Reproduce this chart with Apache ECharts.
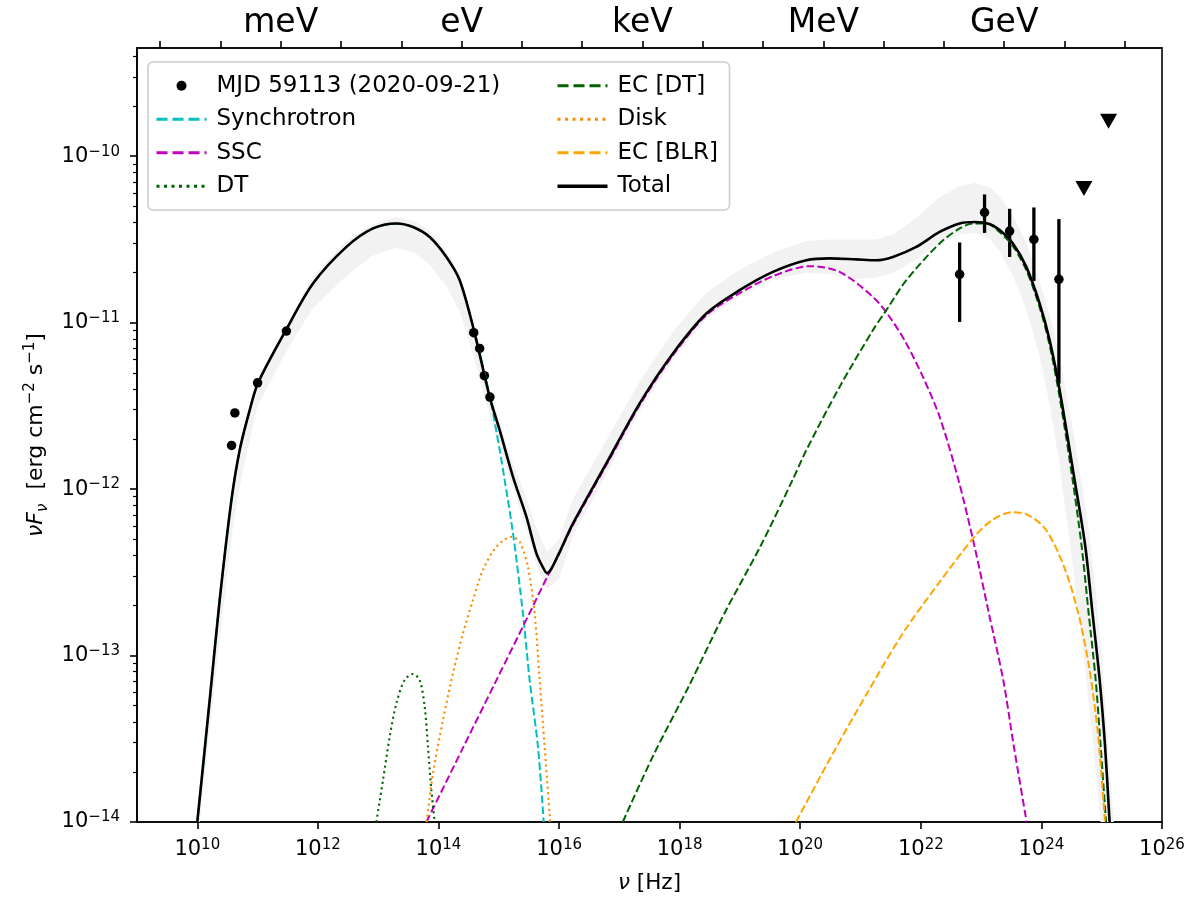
<!DOCTYPE html>
<html>
<head>
<meta charset="utf-8">
<title>SED MJD 59113</title>
<script src="https://cdn.jsdelivr.net/npm/echarts@6/dist/echarts.min.js"></script>
<style>
    html, body { margin: 0; padding: 0; background: #fff; }
    #sed { width: 1200px; height: 901px; }
</style>
</head>
<body>
<div id="sed"></div>
<script>
// model curves, pairs of [log10 nu (Hz), log10 nuFnu (erg cm^-2 s^-1)]
var synchrotron = [
    [10.0, -14.0], [10.206, -13.267], [10.371, -12.667], [10.566, -12.066], [10.703, -11.766],
    [10.869, -11.526], [11.007, -11.363], [11.478, -11.040], [11.919, -10.765], [12.473, -10.545],
    [12.914, -10.434], [13.302, -10.404], [13.577, -10.425], [13.854, -10.485], [14.131, -10.605],
    [14.352, -10.745], [14.584, -11.040], [14.854, -11.447], [15.015, -11.766], [15.098, -11.946],
    [15.236, -12.266], [15.401, -12.747], [15.512, -13.147], [15.650, -13.548], [15.745, -14.0]
];
var ssc = [
    [13.799, -14.0], [14.406, -13.555], [14.960, -13.149], [15.512, -12.744], [15.800, -12.530],
    [16.000, -12.390], [16.231, -12.215], [16.784, -11.856], [17.337, -11.495], [17.889, -11.195],
    [18.443, -10.955], [18.995, -10.823], [19.547, -10.721], [20.155, -10.661], [20.653, -10.695],
    [21.205, -10.845], [21.482, -10.965], [21.759, -11.125], [22.035, -11.326], [22.312, -11.566],
    [22.625, -11.946], [22.892, -12.347], [23.129, -12.747], [23.367, -13.147], [23.544, -13.548],
    [23.755, -14.0]
];
var dustTorus = [
    [12.970, -14.0], [13.080, -13.748], [13.191, -13.488], [13.302, -13.287], [13.439, -13.147],
    [13.577, -13.111], [13.688, -13.147], [13.771, -13.307], [13.826, -13.548], [13.882, -13.808],
    [13.937, -14.0]
];
var ecDT = [
    [17.057, -14.0], [17.562, -13.601], [18.154, -13.183], [18.746, -12.744], [19.338, -12.345],
    [19.872, -11.946], [20.101, -11.766], [20.653, -11.386], [21.206, -11.045], [21.428, -10.925],
    [21.760, -10.745], [22.312, -10.524], [22.644, -10.434], [22.864, -10.404], [23.086, -10.404],
    [23.307, -10.456], [23.527, -10.540], [23.750, -10.685], [23.970, -10.907], [24.136, -11.135],
    [24.302, -11.447], [24.518, -11.946], [24.667, -12.342], [24.783, -12.745], [24.899, -13.141],
    [24.982, -13.544], [25.072, -14.0]
];
var disk = [
    [13.804, -14.0], [13.909, -13.708], [14.075, -13.387], [14.241, -13.107], [14.406, -12.867],
    [14.572, -12.667], [14.738, -12.486], [14.960, -12.347], [15.209, -12.287], [15.347, -12.317],
    [15.484, -12.467], [15.595, -12.747], [15.678, -13.147], [15.761, -13.548], [15.852, -14.0]
];
var ecBLR = [
    [19.930, -14.0], [20.522, -13.601], [21.116, -13.222], [21.708, -12.863], [22.300, -12.564],
    [22.892, -12.285], [23.189, -12.185], [23.514, -12.139], [23.781, -12.156], [24.076, -12.245],
    [24.373, -12.464], [24.610, -12.744], [24.788, -13.063], [24.935, -13.461], [25.054, -14.0]
];
var total = [
    [10.0, -14.0], [10.206, -13.267], [10.371, -12.667], [10.566, -12.066], [10.703, -11.766],
    [10.869, -11.526], [11.007, -11.363], [11.478, -11.040], [11.919, -10.765], [12.473, -10.545],
    [12.914, -10.434], [13.302, -10.404], [13.577, -10.425], [13.854, -10.485], [14.131, -10.605],
    [14.352, -10.745], [14.584, -11.040], [14.849, -11.446], [15.015, -11.646], [15.236, -11.926],
    [15.458, -12.166], [15.624, -12.386], [15.733, -12.470], [15.800, -12.505], [15.870, -12.480],
    [16.000, -12.385], [16.231, -12.206], [16.784, -11.846], [17.337, -11.485], [17.889, -11.185],
    [18.443, -10.945], [18.995, -10.805], [19.547, -10.695], [20.101, -10.625], [20.488, -10.614],
    [20.930, -10.620], [21.262, -10.625], [21.537, -10.605], [21.925, -10.545], [22.312, -10.455],
    [22.644, -10.404], [22.892, -10.395], [23.141, -10.408], [23.307, -10.444], [23.527, -10.524],
    [23.750, -10.665], [23.970, -10.885], [24.136, -11.105], [24.302, -11.405], [24.551, -11.946],
    [24.728, -12.345], [24.847, -12.744], [24.965, -13.141], [25.055, -13.541], [25.131, -14.0]
];
// uncertainty band of the total model
var bandUpper = [
    [9.98, -14.0], [10.2, -13.2], [10.37, -12.62], [10.56, -12.03], [10.7, -11.74], [11.0, -11.34],
    [11.5, -11.0], [11.9, -10.73], [12.47, -10.51], [12.9, -10.41], [13.3, -10.365], [13.6, -10.39],
    [13.85, -10.45], [14.13, -10.57], [14.35, -10.71], [14.58, -11.0], [14.85, -11.41], [15.24, -11.85],
    [15.46, -12.05], [15.63, -12.24], [15.8, -12.38], [16.0, -12.3], [16.23, -12.06], [16.7, -11.76],
    [17.34, -11.35], [17.9, -11.05], [18.44, -10.82], [19.0, -10.68], [19.55, -10.58], [20.1, -10.51],
    [20.5, -10.5], [20.93, -10.5], [21.26, -10.5], [21.54, -10.47], [21.93, -10.37], [22.3, -10.25],
    [22.64, -10.18], [22.9, -10.16], [23.15, -10.19], [23.3, -10.24], [23.53, -10.36], [23.75, -10.52],
    [23.97, -10.75], [24.14, -10.96], [24.3, -11.2], [24.55, -11.7], [24.75, -12.15], [24.9, -12.6],
    [25.02, -13.1], [25.12, -13.6], [25.2, -14.0]
];
var bandLower = [
    [10.04, -14.0], [10.25, -13.3], [10.42, -12.75], [10.6, -12.2], [10.75, -11.9], [11.0, -11.5],
    [11.5, -11.16], [11.9, -10.92], [12.47, -10.72], [12.9, -10.6], [13.3, -10.55], [13.6, -10.58],
    [13.85, -10.65], [14.13, -10.78], [14.35, -10.93], [14.58, -11.2], [14.85, -11.56], [15.24, -12.0],
    [15.46, -12.24], [15.63, -12.46], [15.8, -12.6], [16.0, -12.54], [16.23, -12.28], [16.7, -11.97],
    [17.34, -11.53], [17.9, -11.22], [18.44, -10.98], [19.0, -10.84], [19.55, -10.74], [20.1, -10.7],
    [20.5, -10.71], [20.93, -10.74], [21.26, -10.73], [21.54, -10.7], [21.93, -10.62], [22.3, -10.52],
    [22.64, -10.47], [22.9, -10.46], [23.15, -10.5], [23.3, -10.57], [23.53, -10.72], [23.75, -10.92],
    [23.97, -11.2], [24.14, -11.5], [24.3, -11.85], [24.5, -12.4], [24.7, -13.0], [24.85, -13.5],
    [24.98, -14.0]
];

// observations, nu in Hz and nuFnu in erg cm^-2 s^-1
var obsNu = [3.7e10, 4.2e10, 1.0e11, 3.0e11, 3.84e14, 4.82e14, 5.77e14, 7.14e14,
    4.4e22, 1.14e23, 2.97e23, 7.5e23, 1.95e24];
var obsFlux = [1.83e-12, 2.87e-12, 4.35e-12, 8.9e-12, 8.7e-12, 7.0e-12, 4.8e-12, 3.57e-12,
    1.95e-11, 4.59e-11, 3.55e-11, 3.16e-11, 1.82e-11];
var gammaNu = [4.4e22, 1.14e23, 2.97e23, 7.5e23, 1.95e24];
var gammaLow = [1.01e-11, 3.46e-11, 2.48e-11, 1.78e-11, 4.3e-12];
var gammaHigh = [3.03e-11, 5.89e-11, 4.83e-11, 4.92e-11, 4.19e-11];
var ulNu = [5.07e24, 1.3e25, 3.3e25];
var ulFlux = [6.4e-11, 1.62e-10, 5.0e-10];

// axis ticks (log10 nu, log10 nuFnu) and energy axis
var xTicks = [10, 12, 14, 16, 18, 20, 22, 24, 26];
var yTicks = [-14, -13, -12, -11, -10];
var energyExp = [-5, -4, -3, -2, -1, 0, 1, 2, 3, 4, 5, 6, 7, 8, 9, 10, 11];
var energyNames = {'-3': 'meV', '0': 'eV', '3': 'keV', '6': 'MeV', '9': 'GeV'};
var LOG_HZ_PER_EV = Math.log10(2.417989e14);

var FONT = 'DejaVu Sans';
var yMin = -14, yMax = -9.35;

var yMinor = [];
for (var n = -14; n <= -10; n++) {
    for (var k = 2; k <= 9; k++) {
        var v = n + Math.log10(k);
        if (v < yMax) yMinor.push(v);
    }
}
var energyTicks = energyExp.map(function(e) { return LOG_HZ_PER_EV + e; });
var energyLabelTicks = energyExp.filter(function(e) { return energyNames[e] !== undefined; })
    .map(function(e) { return LOG_HZ_PER_EV + e; });

function logPairs(xs, ys) {
    return xs.map(function(x, i) { return [Math.log10(x), Math.log10(ys[i])]; });
}

function powLabel(v) {
    var e = Math.round(v);
    return '{b|10}{s|' + (e < 0 ? '\u2212' + (-e) : e) + '}';
}

var powRich = {
    b: {fontFamily: FONT, fontSize: 21, lineHeight: 24, color: '#000'},
    s: {fontFamily: FONT, fontSize: 15, lineHeight: 15, verticalAlign: 'top', color: '#000'}
};

function modelLine(name, data, color, dash, width) {
    return {
        name: name,
        type: 'line',
        data: data,
        showSymbol: false,
        symbol: 'none',
        smooth: 0.3,
        lineStyle: {color: color, width: width, type: dash},
        itemStyle: {color: color},
        emphasis: {disabled: true},
        silent: true
    };
}

var DASH = [7.7, 3.3];
var DOT = [2.1, 3.4];
var LEG_DASH = [11, 5];
var LEG_DOT = [3, 4.5];

function legendLine(name, width, dash, textWidth) {
    return {
        name: name,
        itemStyle: {opacity: 0},
        lineStyle: {width: width, type: dash},
        textStyle: {width: textWidth, padding: [0, 0, 0, 5]}
    };
}

var chart = echarts.init(document.getElementById('sed'));

var option = {
    animation: false,
    backgroundColor: '#fff',
    grid: {
        left: 137, right: 38, top: 48, bottom: 79,
        show: true, borderColor: '#000', borderWidth: 1.6, backgroundColor: 'transparent'
    },
    legend: {
        orient: 'vertical',
        left: 148,
        top: 62,
        height: 150,
        padding: [11.75, 8, 11.75, 7],
        itemGap: 9.5,
        itemWidth: 50,
        itemHeight: 10,
        backgroundColor: 'rgba(255,255,255,0.8)',
        borderColor: '#cccccc',
        borderWidth: 1.5,
        borderRadius: 5,
        selectedMode: false,
        textStyle: {fontFamily: FONT, fontSize: 23, color: '#000', lineHeight: 24},
        data: [
            {name: 'MJD 59113 (2020-09-21)', itemStyle: {opacity: 1},
                textStyle: {width: 330, padding: [0, 0, 0, 5]}},
            legendLine('Synchrotron', 3, LEG_DASH, 330),
            legendLine('SSC', 3, LEG_DASH, 330),
            legendLine('DT', 3, LEG_DOT, 330),
            legendLine('EC [DT]', 3, LEG_DASH, 104),
            legendLine('Disk', 3, LEG_DOT, 104),
            legendLine('EC [BLR]', 3, LEG_DASH, 104),
            legendLine('Total', 3.5, 'solid', 104)
        ]
    },
    xAxis: [
        {
            type: 'value',
            position: 'bottom',
            min: 9,
            max: 26,
            name: '{i|\u03bd} [Hz]',
            nameLocation: 'middle',
            nameGap: 50,
            nameTextStyle: {
                fontFamily: FONT, fontSize: 21.5, color: '#000',
                rich: {i: {fontFamily: FONT, fontSize: 21.5, fontStyle: 'italic', color: '#000'}}
            },
            axisLine: {show: true, lineStyle: {color: '#000', width: 1.6}},
            axisTick: {show: true, customValues: xTicks, length: 7, lineStyle: {color: '#000', width: 1.6}},
            axisLabel: {customValues: xTicks, margin: 16, formatter: powLabel, rich: powRich},
            splitLine: {show: false}
        },
        {
            type: 'value',
            position: 'top',
            min: 9,
            max: 26,
            axisLine: {show: true, lineStyle: {color: '#000', width: 1.6}},
            axisTick: {show: true, customValues: energyTicks, length: 7, lineStyle: {color: '#000', width: 1.6}},
            axisLabel: {
                customValues: energyLabelTicks,
                margin: 8,
                fontFamily: FONT,
                fontSize: 33,
                color: '#000',
                formatter: function(v) {
                    return energyNames[Math.round(v - LOG_HZ_PER_EV)] || '';
                }
            },
            splitLine: {show: false}
        }
    ],
    yAxis: [
        {
            type: 'value',
            position: 'left',
            min: yMin,
            max: yMax,
            name: '{i|\u03bdF}{sub|\u03bd}{r|  [erg cm}{sup|\u22122}{r| s}{sup|\u22121}{r|]}',
            nameLocation: 'middle',
            nameRotate: 90,
            nameGap: 84,
            nameTextStyle: {
                fontFamily: FONT, fontSize: 22, color: '#000',
                rich: {
                    i: {fontFamily: FONT, fontSize: 22, fontStyle: 'italic', lineHeight: 28, color: '#000'},
                    sub: {fontFamily: FONT, fontSize: 15, fontStyle: 'italic', lineHeight: 15, verticalAlign: 'bottom', color: '#000'},
                    r: {fontFamily: FONT, fontSize: 22, lineHeight: 28, color: '#000'},
                    sup: {fontFamily: FONT, fontSize: 15, lineHeight: 15, verticalAlign: 'top', color: '#000'}
                }
            },
            axisLine: {show: true, lineStyle: {color: '#000', width: 1.6}},
            axisTick: {show: true, customValues: yTicks, length: 7, lineStyle: {color: '#000', width: 1.6}},
            axisLabel: {customValues: yTicks, margin: 17, formatter: powLabel, rich: powRich},
            splitLine: {show: false}
        },
        {
            // minor ticks of the log axis, drawn on the left spine
            type: 'value',
            position: 'right',
            offset: -1025,
            min: yMin,
            max: yMax,
            axisLine: {show: false},
            axisTick: {show: true, inside: true, customValues: yMinor, length: 4, lineStyle: {color: '#000', width: 1.2}},
            axisLabel: {show: false},
            splitLine: {show: false}
        }
    ],
    series: [
        {
            name: 'band',
            type: 'custom',
            silent: true,
            clip: true,
            data: [bandUpper[0]],
            renderItem: function(params, api) {
                var pts = [];
                bandUpper.forEach(function(p) { pts.push(api.coord(p)); });
                for (var i = bandLower.length - 1; i >= 0; i--) {
                    pts.push(api.coord(bandLower[i]));
                }
                return {type: 'polygon', shape: {points: pts}, style: {fill: '#f2f2f2'}};
            }
        },
        modelLine('Synchrotron', synchrotron, '#00bfbf', DASH, 2),
        modelLine('SSC', ssc, '#bf00bf', DASH, 2),
        modelLine('DT', dustTorus, '#006400', DOT, 2.1),
        modelLine('EC [DT]', ecDT, '#006400', DASH, 2),
        modelLine('Disk', disk, '#ff8c00', DOT, 2.1),
        modelLine('EC [BLR]', ecBLR, '#ffa500', DASH, 2),
        modelLine('Total', total, '#000000', 'solid', 2.6),
        {
            name: 'errors',
            type: 'custom',
            silent: true,
            data: gammaNu.map(function(v, i) {
                return [Math.log10(v), Math.log10(gammaLow[i]), Math.log10(gammaHigh[i])];
            }),
            encode: {x: 0, y: [1, 2]},
            renderItem: function(params, api) {
                var lo = api.coord([api.value(0), api.value(1)]);
                var hi = api.coord([api.value(0), api.value(2)]);
                return {
                    type: 'line',
                    shape: {x1: lo[0], y1: lo[1], x2: hi[0], y2: hi[1]},
                    style: {stroke: '#000', lineWidth: 3.3}
                };
            }
        },
        {
            name: 'MJD 59113 (2020-09-21)',
            type: 'scatter',
            data: logPairs(obsNu, obsFlux),
            symbol: 'circle',
            symbolSize: 9.5,
            itemStyle: {color: '#000', opacity: 1},
            silent: true
        },
        {
            name: 'upper limits',
            type: 'scatter',
            data: logPairs(ulNu, ulFlux),
            symbol: 'triangle',
            symbolRotate: 180,
            symbolSize: [17, 15],
            itemStyle: {color: '#000', opacity: 1},
            clip: true,
            silent: true
        }
    ]
};

chart.setOption(option);
</script>
</body>
</html>
